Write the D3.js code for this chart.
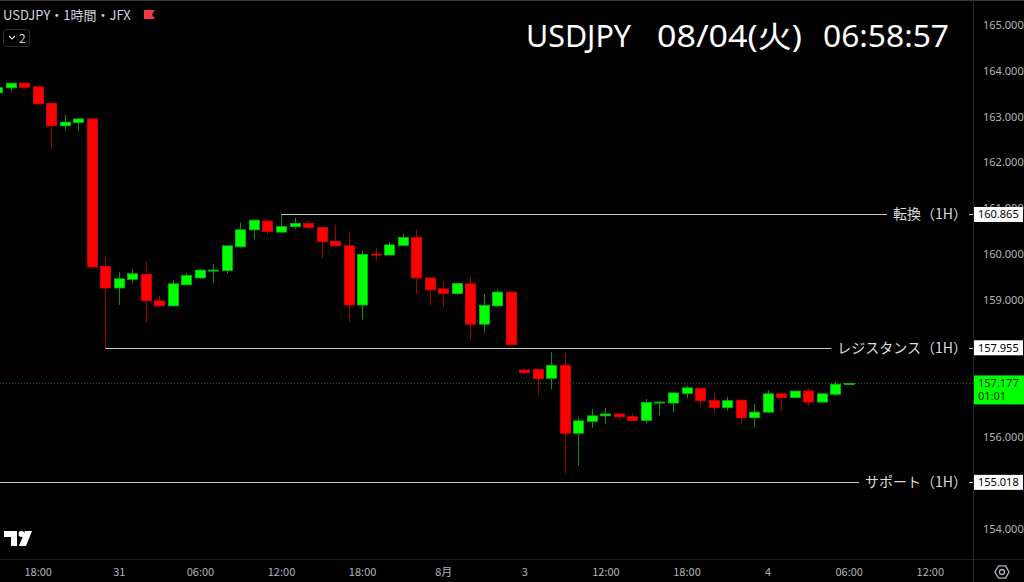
<!DOCTYPE html>
<html>
<head>
<meta charset="utf-8">
<script src="https://cdn.jsdelivr.net/npm/d3@7"></script>
<style>
html, body { margin: 0; padding: 0; background: #000; overflow: hidden; }
text { font-family: "Noto Sans CJK JP", "Noto Sans", sans-serif; }
</style>
</head>
<body>
<div id="chart"></div>
<script>
// hourly candles, first one is index -1 (partly off the left edge)
var firstIndex = -1;
var opens  = [163.52,163.63,163.73,163.65,163.29,162.80,162.87,162.95,159.73,159.26,159.45,159.56,158.98,158.87,159.33,159.48,159.64,159.64,160.16,160.53,160.72,160.48,160.60,160.67,160.58,160.28,160.18,158.89,160.00,159.98,160.19,160.36,159.48,159.24,159.14,159.35,158.47,158.87,159.17,157.47,157.48,157.29,157.57,156.09,156.35,156.47,156.51,156.45,156.37,156.76,156.75,156.96,157.07,156.80,156.65,156.81,156.43,156.55,156.95,156.87,157.01,156.77,156.94,157.16];
var highs  = [163.64,163.74,163.74,163.66,163.30,163.04,162.96,162.96,159.94,159.61,159.67,159.84,159.09,159.43,159.59,159.66,159.78,160.19,160.69,160.75,160.73,160.865,160.80,160.74,160.59,160.64,160.50,160.08,160.13,160.26,160.45,160.53,159.49,159.41,159.37,159.50,159.13,159.24,159.19,157.51,157.49,157.86,157.86,156.44,156.62,156.64,156.52,156.51,156.84,156.79,156.98,157.12,157.08,156.98,156.89,156.84,156.73,157.03,156.96,157.02,157.08,156.96,157.21,157.18];
var lows   = [163.50,163.55,163.61,163.27,162.29,162.70,162.69,159.70,157.955,158.89,159.36,158.50,158.84,158.86,159.32,159.46,159.36,159.57,160.14,160.31,160.42,160.46,160.55,160.54,159.91,160.17,158.52,158.56,159.86,159.97,160.17,159.12,158.89,158.84,159.11,158.14,158.28,158.86,158.01,157.38,156.91,157.05,155.22,155.38,156.21,156.29,156.37,156.36,156.30,156.47,156.54,156.85,156.65,156.54,156.58,156.30,156.23,156.54,156.58,156.86,156.67,156.76,156.91,157.15];
var closes = [163.63,163.73,163.64,163.28,162.80,162.88,162.95,159.72,159.26,159.46,159.57,158.98,158.87,159.35,159.53,159.65,159.65,160.18,160.53,160.74,160.49,160.60,160.67,160.58,160.27,160.18,158.89,159.99,159.99,160.20,160.36,159.48,159.22,159.14,159.36,158.47,158.88,159.17,158.02,157.41,157.28,157.57,156.09,156.36,156.47,156.51,156.45,156.37,156.76,156.77,156.97,157.08,156.80,156.65,156.80,156.43,156.55,156.95,156.87,157.01,156.77,156.95,157.16,157.177];

// 155, 157 and 158 sit under the price boxes and are not visible
var priceTicks = [154,156,159,160,161,162,163,164,165];
var timeTickIndex  = [2,8,14,20,26,32,38,44,50,56,62,68];
var timeTickLabels = ["18:00","31","06:00","12:00","18:00","8月","3","12:00","18:00","4","06:00","12:00"];

var levelNames  = ["転換（1H）","レジスタンス（1H）","サポート（1H）"];
var levelValues = [160.865, 157.955, 155.018];
var levelFrom   = [20, 7, null];   // candle the line starts at (null = left edge)

var lastPrice = 157.177;
var countdown = "01:01";
var titleParts = ["USDJPY", "08/04(火)", "06:58:57"];
var symbolText = "USDJPY・1時間・JFX";

var W = 1024, H = 582;
var plotRight = 973, axisTop = 559;

var candles = opens.map(function(o, k) {
    return {i: firstIndex + k, o: o, h: highs[k], l: lows[k], c: closes[k]};
});

var svg = d3.select("#chart").append("svg")
    .attr("width", W).attr("height", H)
    .style("display", "block")
    .style("background", "#000");

var x = d3.scaleLinear().domain([2, 62]).range([37.7, 848.7]);
var y = d3.scaleLinear().domain([154, 165]).range([529, 25]);

// frame
svg.append("line").attr("x1", 0).attr("x2", W).attr("y1", 0.5).attr("y2", 0.5)
    .attr("stroke", "#3a3a3a");
svg.append("line").attr("x1", 0).attr("x2", W).attr("y1", axisTop + 0.5).attr("y2", axisTop + 0.5)
    .attr("stroke", "#1e222d");
svg.append("line").attr("x1", plotRight + 0.5).attr("x2", plotRight + 0.5).attr("y1", 0).attr("y2", H)
    .attr("stroke", "#1e222d");

var plot = svg.append("g");
plot.append("defs").append("clipPath").attr("id", "clip")
    .append("rect").attr("x", 0).attr("y", 0).attr("width", plotRight).attr("height", axisTop);
var body = plot.append("g").attr("clip-path", "url(#clip)");

// current price dotted line
body.append("line")
    .attr("x1", 0).attr("x2", plotRight)
    .attr("y1", Math.round(y(lastPrice)) + 0.5).attr("y2", Math.round(y(lastPrice)) + 0.5)
    .attr("stroke", "#0d6b0d").attr("stroke-dasharray", "1,2");

// level lines
levelValues.forEach(function(v, k) {
    var yy = Math.round(y(v)) + 0.5;
    var x0 = levelFrom[k] === null ? 0 : x(levelFrom[k]);
    body.append("line")
        .attr("x1", x0).attr("x2", plotRight)
        .attr("y1", yy).attr("y2", yy)
        .attr("stroke", "#c8c8c8").attr("stroke-width", 1);
});

// candles
var g = body.selectAll("g.candle").data(candles).enter().append("g").attr("class", "candle");
g.append("line")
    .attr("x1", function(d) { return Math.round(x(d.i)) + 0.5; })
    .attr("x2", function(d) { return Math.round(x(d.i)) + 0.5; })
    .attr("y1", function(d) { return y(d.h); })
    .attr("y2", function(d) { return y(d.l); })
    .attr("stroke", function(d) { return d.c >= d.o ? "#0a8f0a" : "#a00000"; });
g.append("rect")
    .attr("x", function(d) { return Math.round(x(d.i)) - 4.5; })
    .attr("width", 10)
    .attr("y", function(d) { return y(Math.max(d.o, d.c)); })
    .attr("height", function(d) { return Math.max(1, Math.abs(y(d.o) - y(d.c))); })
    .attr("fill", function(d) { return d.c >= d.o ? "#00ff00" : "#ff0000"; })
    .attr("stroke", function(d) { return d.c >= d.o ? "#00c000" : "#e00000"; })
    .attr("stroke-width", 0.8);

// level labels with black backing
levelValues.forEach(function(v, k) {
    var yy = y(v);
    var t = svg.append("text")
        .attr("x", 967).attr("y", yy).attr("dy", "0.35em")
        .attr("text-anchor", "end")
        .attr("font-size", 14).attr("fill", "#dcdcdc")
        .text(levelNames[k]);
    var bb = t.node().getBBox();
    svg.insert("rect", "text")
        .attr("x", bb.x - 6).attr("y", yy - 9)
        .attr("width", bb.width + 8).attr("height", 18)
        .attr("fill", "#000");
});

// price axis
var yAxis = svg.append("g")
    .attr("transform", "translate(" + plotRight + ",0)")
    .call(d3.axisRight(y).tickValues(priceTicks).tickFormat(d3.format(".3f")).tickSize(0).tickPadding(10));
yAxis.select(".domain").remove();
yAxis.selectAll("text").attr("fill", "#b2b5be").attr("font-size", 11)
    .style("font-family", "'Noto Sans', sans-serif");

// price boxes for the levels
levelValues.forEach(function(v) {
    var yy = y(v);
    svg.append("rect").attr("x", plotRight + 1).attr("y", yy - 7.5)
        .attr("width", W - plotRight - 2).attr("height", 15).attr("fill", "#ffffff");
    svg.append("text").attr("x", plotRight + 5).attr("y", yy).attr("dy", "0.35em")
        .attr("font-size", 11).attr("fill", "#000")
        .style("font-family", "'Noto Sans', sans-serif")
        .text(d3.format(".3f")(v));
});

// last price box
var ly = y(lastPrice);
svg.append("rect").attr("x", plotRight + 1).attr("y", ly - 8)
    .attr("width", W - plotRight - 1).attr("height", 29).attr("fill", "#00ff00");
svg.append("text").attr("x", plotRight + 5).attr("y", ly).attr("dy", "0.35em")
    .attr("font-size", 11).attr("fill", "#0b2e0b")
    .style("font-family", "'Noto Sans', sans-serif")
    .text(d3.format(".3f")(lastPrice));
svg.append("text").attr("x", plotRight + 5).attr("y", ly + 13).attr("dy", "0.35em")
    .attr("font-size", 11).attr("fill", "#0b2e0b")
    .style("font-family", "'Noto Sans', sans-serif")
    .text(countdown);

// time axis
var xAxis = svg.append("g")
    .attr("transform", "translate(0," + axisTop + ")")
    .call(d3.axisBottom(x).tickValues(timeTickIndex)
        .tickFormat(function(d, i) { return timeTickLabels[i]; })
        .tickSize(0).tickPadding(9));
xAxis.select(".domain").remove();
xAxis.selectAll("text").attr("fill", "#b2b5be").attr("font-size", 11);

// settings icon bottom right
var cx = 1002, cy = 572;
var hex = d3.range(6).map(function(k) {
    var a = Math.PI / 3 * k;
    return [cx + 7 * Math.cos(a), cy + 7 * Math.sin(a)];
});
svg.append("path").attr("d", d3.line()(hex) + "Z")
    .attr("fill", "none").attr("stroke", "#b2b5be").attr("stroke-width", 1.3);
svg.append("circle").attr("cx", cx).attr("cy", cy).attr("r", 2.5)
    .attr("fill", "none").attr("stroke", "#b2b5be").attr("stroke-width", 1.3);

// title, three parts spread like the clock overlay
var titleX = [526, 657, 823];
var titleLen = [105, 145, 126];
titleParts.forEach(function(s, k) {
    svg.append("text").attr("x", titleX[k]).attr("y", 47)
        .attr("font-size", 30).attr("fill", "#ffffff")
        .attr("textLength", titleLen[k]).attr("lengthAdjust", "spacingAndGlyphs")
        .style("font-family", "'Noto Sans', 'Noto Sans CJK JP', sans-serif")
        .text(s);
});

svg.append("text").attr("x", 3).attr("y", 20)
    .attr("font-size", 13).attr("fill", "#d1d4dc")
    .text(symbolText);
svg.append("path")
    .attr("d", "M144,10 L155,10 L152,14.5 L155,19 L144,19 Z")
    .attr("fill", "#f23645");

svg.append("rect").attr("x", 3.5).attr("y", 29.5).attr("width", 26).attr("height", 17).attr("rx", 3)
    .attr("fill", "none").attr("stroke", "#2a2e39");
svg.append("path").attr("d", "M9,36 L12,39 L15,36")
    .attr("fill", "none").attr("stroke", "#d1d4dc").attr("stroke-width", 1.2);
svg.append("text").attr("x", 19).attr("y", 42.5)
    .attr("font-size", 12).attr("fill", "#d1d4dc")
    .text("2");

// tradingview mark
svg.append("path")
    .attr("d", "M4,531 L17,531 L17,546 L11,546 L11,537 L4,537 Z")
    .attr("fill", "#ffffff");
svg.append("circle").attr("cx", 21.5).attr("cy", 534).attr("r", 3).attr("fill", "#ffffff");
svg.append("path")
    .attr("d", "M25,531 L32,531 L26,546 L19,546 Z")
    .attr("fill", "#ffffff");
</script>
</body>
</html>
